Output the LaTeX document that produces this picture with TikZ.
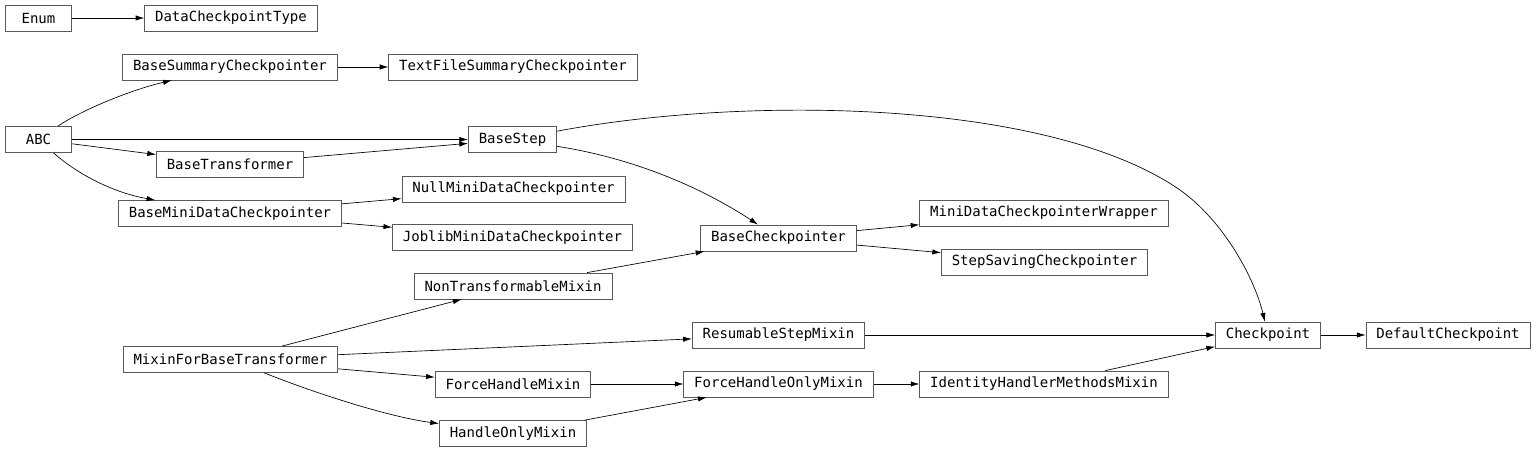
\documentclass[tikz,border=0pt]{standalone}
\usepackage{fontspec}
\setmonofont{DejaVu Sans Mono}
\usetikzlibrary{arrows, arrows.meta}
\tikzstyle{cls} = [rectangle, minimum width=50pt, minimum height=19.5pt, inner xsep=7.8pt, inner ysep=2pt, text centered, draw=black!65, line width=0.6pt, font=\ttfamily\fontsize{10.5}{12}\selectfont]
\tikzstyle{arrow} = [line width=0.5pt, ->, >={Latex[length=6.5pt,width=4pt]}]
\begin{document}
\begin{tikzpicture}[x=0.75pt, y=-0.75pt]
		\useasboundingbox (0,0) rectangle (1536,453);
		\node (enum) [cls] at (38.5,18) {Enum};
		\node (dct) [cls] at (231,18) {DataCheckpointType};
		\node (bsc) [cls] at (230,67) {BaseSummaryCheckpointer};
		\node (tfsc) [cls] at (513,67) {TextFileSummaryCheckpointer};
		\node (abc) [cls] at (38.5,139.5) {ABC};
		\node (bstep) [cls] at (512.5,139.5) {BaseStep};
		\node (btr) [cls] at (230,164) {BaseTransformer};
		\node (nmdc) [cls] at (513.5,189) {NullMiniDataCheckpointer};
		\node (bmdc) [cls] at (230,213.5) {BaseMiniDataCheckpointer};
		\node (jmdc) [cls] at (512.5,237.5) {JoblibMiniDataCheckpointer};
		\node (bcp) [cls] at (778.5,238) {BaseCheckpointer};
		\node (mdcw) [cls] at (1044,213) {MiniDataCheckpointerWrapper};
		\node (sscp) [cls] at (1044.5,262) {StepSavingCheckpointer};
		\node (ntm) [cls] at (513,286) {NonTransformableMixin};
		\node (rsm) [cls] at (778.5,335) {ResumableStepMixin};
		\node (cp) [cls] at (1268,335) {Checkpoint};
		\node (dcp) [cls] at (1448,335) {DefaultCheckpoint};
		\node (mfbt) [cls] at (230.5,359.5) {MixinForBaseTransformer};
		\node (fhm) [cls] at (513,384) {ForceHandleMixin};
		\node (fhom) [cls] at (778.5,384) {ForceHandleOnlyMixin};
		\node (ihmm) [cls] at (1044,384) {IdentityHandlerMethodsMixin};
		\node (hom) [cls] at (513,433.5) {HandleOnlyMixin};

		% Enum and ABC
		\draw [arrow] (enum) -- (dct);
		\draw [arrow] (abc) .. controls (80,111) and (130,90) .. (bsc);
		\draw [arrow] (abc) -- (bstep);
		\draw [arrow] (abc) -- (btr);
		\draw [arrow] (abc) .. controls (75,172) and (110,192) .. (bmdc);
		% Second column
		\draw [arrow] (bsc) -- (tfsc);
		\draw [arrow] (btr) -- (bstep);
		\draw [arrow] (bmdc) -- (nmdc);
		\draw [arrow] (bmdc) -- (jmdc);
		% BaseStep
		\draw [arrow] (bstep) .. controls (620,156) and (690,180) .. (bcp);
		\draw [arrow] (bstep) .. controls (750,95) and (1050,100) .. (1180,190) .. controls (1225,222) and (1255,280) .. (cp);
		\draw [arrow] (bcp) -- (mdcw);
		\draw [arrow] (bcp) -- (sscp);
		\draw [arrow] (ntm) -- (bcp);
		% Mixins
		\draw [arrow] (mfbt) -- (ntm);
		\draw [arrow] (mfbt) -- (rsm);
		\draw [arrow] (mfbt) -- (fhm);
		\draw [arrow] (mfbt) .. controls (320,395) and (390,417) .. (hom);
		\draw [arrow] (fhm) -- (fhom);
		\draw [arrow] (hom) -- (fhom);
		\draw [arrow] (fhom) -- (ihmm);
		\draw [arrow] (rsm) -- (cp);
		\draw [arrow] (ihmm) -- (cp);
		\draw [arrow] (cp) -- (dcp);
	\end{tikzpicture}
\end{document}
